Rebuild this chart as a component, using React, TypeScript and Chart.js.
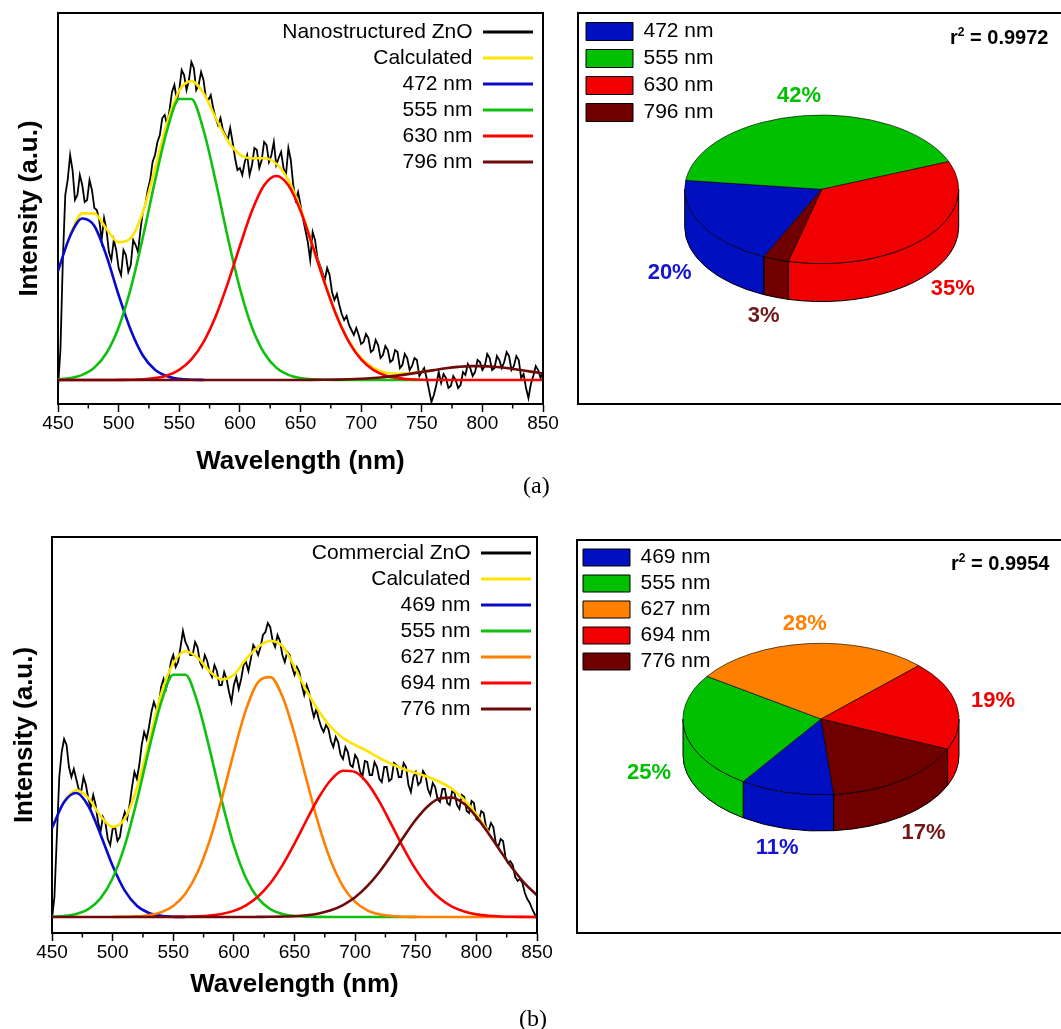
import React, { useEffect, useRef } from 'react';
import { Chart, registerables } from 'chart.js';

Chart.register(...registerables);

const SANS = "'Liberation Sans', Arial, Helvetica, sans-serif";
const SERIF = "'Liberation Serif', 'Times New Roman', serif";
Chart.defaults.font.family = SANS;

// ---------- data ----------
const dataWavelengths = [
  450, 452, 454, 456, 458, 460, 462, 464, 466, 468,
  470, 472, 474, 476, 478, 480, 482, 484, 486, 488,
  490, 492, 494, 496, 498, 500, 502, 504, 506, 508,
  510, 512, 514, 516, 518, 520, 522, 524, 526, 528,
  530, 532, 534, 536, 538, 540, 542, 544, 546, 548,
  550, 552, 554, 556, 558, 560, 562, 564, 566, 568,
  570, 572, 574, 576, 578, 580, 582, 584, 586, 588,
  590, 592, 594, 596, 598, 600, 602, 604, 606, 608,
  610, 612, 614, 616, 618, 620, 622, 624, 626, 628,
  630, 632, 634, 636, 638, 640, 642, 644, 646, 648,
  650, 652, 654, 656, 658, 660, 662, 664, 666, 668,
  670, 672, 674, 676, 678, 680, 682, 684, 686, 688,
  690, 692, 694, 696, 698, 700, 702, 704, 706, 708,
  710, 712, 714, 716, 718, 720, 722, 724, 726, 728,
  730, 732, 734, 736, 738, 740, 742, 744, 746, 748,
  750, 752, 754, 756, 758, 760, 762, 764, 766, 768,
  770, 772, 774, 776, 778, 780, 782, 784, 786, 788,
  790, 792, 794, 796, 798, 800, 802, 804, 806, 808,
  810, 812, 814, 816, 818, 820, 822, 824, 826, 828,
  830, 832, 834, 836, 838, 840, 842, 844, 846, 848,
  850,
];

const fitWavelengths = [
  450, 460, 470, 480, 490, 500, 510, 520, 530, 540,
  550, 560, 570, 580, 590, 600, 610, 620, 630, 640,
  650, 660, 670, 680, 690, 700, 710, 720, 730, 740,
  750, 760, 770, 780, 790, 800, 810, 820, 830, 840,
  850,
];

// (a) Nanostructured ZnO
const nanoIntensity = [
  -8, 30, 120, 185, 200, 225, 210, 180, 185, 205,
  195, 178, 180, 200, 190, 172, 170, 160, 140, 162,
  150, 128, 120, 140, 130, 112, 105, 130, 125, 108,
  115, 140, 135, 128, 150, 168, 175, 190, 200, 218,
  225, 238, 245, 262, 265, 255, 270, 288, 295, 280,
  290, 310, 305, 290, 300, 318, 312, 290, 295, 308,
  300, 282, 280, 285, 272, 262, 255, 262, 250, 245,
  240, 252, 238, 222, 210, 212, 205, 218, 225, 205,
  215, 232, 230, 212, 220, 238, 235, 218, 225, 238,
  215, 222, 228, 212, 205, 232, 220, 195, 180, 188,
  175, 162, 150, 138, 120, 148, 140, 122, 115, 108,
  100, 112, 105, 88, 80, 86, 75, 66, 60, 64,
  55, 50, 45, 52, 45, 36, 38, 46, 42, 28,
  30, 40, 35, 22, 25, 34, 30, 18, 20, 30,
  28, 12, 15, 26, 22, 10, 14, 22, 20, 4,
  8, 12, 2, -10, -22, -15, -5, 8, -3, 6,
  2, -8, -6, 4, 0, -8, -5, 8, 5, 16,
  12, 4, 8, 20, 18, 10, 14, 26, 22, 10,
  12, 24, 20, 12, 18, 28, 24, 10, 14, 24,
  20, 2, 6, -8, -18, -4, 4, 14, 10, 2,
  8,
];
const nanoCalculated = [
  null, 145.9, 166.6, 166.4, 151, 137.6, 141.8, 167.9, 211.2, 257.3,
  289.3, 298.9, 286.9, 262.4, 239.3, 225.5, 221.7, 221.7, 216.4, 199.8,
  171.2, 134.6, 97, 63.8, 38.6, 21.8, 12.2, 7.6, 6.3, 6.8,
  8.2, 9.9, null, null, null, null, null, null, null, null,
  null,
];
const nano472 = [
  109, 144, 161.5, 154, 124, 85, 50, 24.5, 10.3, 3.7,
  1.1, 0.3, 0.1, null, null, null, null, null, null, null,
  null, null, null, null, null, null, null, null, null, null,
  null, null, null, null, null, null, null, null, null, null,
  null,
];
const nano555 = [
  0.6, 1.9, 5.1, 12.4, 27, 52.5, 91.6, 142.7, 199, 250,
  281, 281, 250, 199, 142.7, 91.6, 52.5, 27, 12.4, 5.1,
  1.9, 0.6, 0.2, 0, 0, 0, 0, 0, 0, 0,
  0, null, null, null, null, null, null, null, null, null,
  null,
];
const nano630 = [
  0, 0, 0, 0, 0, 0.1, 0.2, 0.7, 1.9, 4.6,
  10.2, 20.6, 37.9, 63.4, 96.6, 133.9, 169.2, 194.7, 204, 194.7,
  169.2, 133.9, 96.6, 63.4, 37.9, 20.6, 10.2, 4.6, 1.9, 0.7,
  0.2, 0, 0, 0, 0, 0, 0, 0, 0, 0,
  0,
];
const nano796 = [
  0, 0, 0, 0, 0, 0, 0, 0, 0, 0,
  0, 0, 0, 0, 0, 0, 0, 0, 0, 0,
  0.05, 0.1, 0.2, 0.4, 0.7, 1.2, 2.0, 3.0, 4.4, 6.1,
  8.0, 9.9, 11.7, 13.1, 13.9, 13.9, 13.3, 12.0, 10.3, 8.4,
  6.5,
];

// (b) Commercial ZnO
const commIntensity = [
  -2, 20, 80, 140, 165, 178, 172, 150, 140, 148,
  138, 128, 125, 140, 132, 118, 110, 122, 112, 95,
  85, 100, 95, 78, 72, 88, 90, 76, 80, 96,
  105, 98, 112, 130, 145, 138, 152, 172, 185, 178,
  190, 205, 215, 208, 212, 230, 238, 228, 238, 255,
  262, 250, 255, 270, 286, 275, 270, 262, 262, 275,
  270, 255, 250, 262, 256, 245, 240, 252, 246, 232,
  232, 245, 238, 225, 215, 232, 240, 228, 238, 252,
  255, 246, 258, 272, 268, 262, 270, 282, 285, 294,
  290, 276, 270, 282, 276, 262, 255, 265, 262, 250,
  242, 250, 245, 232, 222, 232, 225, 210, 200, 208,
  198, 190, 185, 192, 188, 176, 170, 180, 175, 162,
  158, 170, 165, 152, 150, 162, 158, 146, 140, 156,
  155, 142, 142, 155, 150, 138, 135, 150, 150, 136,
  138, 154, 152, 140, 140, 154, 150, 132, 125, 140,
  145, 132, 135, 146, 142, 128, 122, 134, 130, 118,
  115, 128, 128, 114, 112, 126, 124, 112, 108, 122,
  120, 106, 104, 116, 114, 98, 96, 106, 104, 90,
  86, 94, 90, 74, 70, 78, 76, 60, 54, 56,
  52, 40, 36, 38, 34, 24, 18, 14, 8, 3,
  -2,
];
const commCalculated = [
  null, 116, 127, 118.9, 101.2, 90.1, 98.2, 129, 175.1, 223.1,
  253.7, 265.8, 259.5, 245.7, 237.6, 242.3, 257.8, 270, 276, 271,
  250, 226, 206, 190, 179, 172, 166, 159, 153, 148,
  144, 140, 135, 128, 117, 102.8, 84.8, null, null, null,
  null,
];
const comm469 = [
  89, 115, 124, 111, 82.6, 51.2, 26.4, 11.3, 4.0, 1.2,
  0.3, 0.1, null, null, null, null, null, null, null, null,
  null, null, null, null, null, null, null, null, null, null,
  null, null, null, null, null, null, null, null, null, null,
  null,
];
const comm555 = [
  0.3, 1.0, 3.0, 7.9, 18.6, 38.7, 71.3, 116.4, 167.9, 214.4,
  242.3, 242.3, 214.4, 167.9, 116.4, 71.3, 38.7, 18.6, 7.9, 3.0,
  1.0, 0.3, 0.1, 0, 0, 0, 0, 0, 0, 0,
  0, null, null, null, null, null, null, null, null, null,
  null,
];
const comm627 = [
  null, null, null, null, null, 0.05, 0.2, 0.6, 1.8, 4.7,
  11, 23.3, 44.5, 76.4, 118.2, 164.9, 207.4, 234.9, 239.9, 220.7,
  183, 136.8, 92.1, 55.9, 30.6, 15.1, 6.7, 2.7, 1.0, 0.3,
  0.1, 0, 0, 0, 0, 0, 0, 0, 0, 0,
  0,
];
const comm694 = [
  null, null, null, null, null, null, null, null, null, null,
  0.1, 0.2, 0.6, 1.4, 3.0, 6.1, 11.7, 20.5, 33.7, 51.6,
  73.3, 97, 119.5, 137, 146.2, 145.1, 134.1, 115.3, 92.3, 68.7,
  47.6, 30.7, 18.4, 10.3, 5.4, 2.6, 1.2, 0.5, 0.2, 0.1,
  0,
];
const comm776 = [
  0, 0, 0, 0, 0, 0, 0, 0, 0, 0,
  0, 0, 0, 0, 0, 0, 0, 0.1, 0.2, 0.4,
  0.8, 1.8, 3.6, 6.7, 11.9, 19.7, 30.8, 45, 61.9, 80,
  97.2, 110.8, 118.7, 119.4, 112.9, 100.2, 83.6, 65.5, 48.2, 33.4,
  21.7,
];

// pies
const pieALabels = ['472 nm', '555 nm', '630 nm', '796 nm'];
const pieAValues = [20, 42, 35, 3];
const pieBLabels = ['469 nm', '555 nm', '627 nm', '694 nm', '776 nm'];
const pieBValues = [11, 25, 28, 19, 17];

// ---------- colours ----------
const C_BLACK = '#000000';
const C_YELLOW = '#FFE400';
const C_BLUE = '#0A0ACC';
const C_GREEN = '#10C010';
const C_RED = '#FF0000';
const C_BROWN = '#6E0A0A';
const C_ORANGE = '#FF7F00';

const P_BLUE = '#0010C0';
const P_GREEN = '#00C000';
const P_RED = '#F00000';
const P_BROWN = '#700000';
const P_ORANGE = '#FF8000';

// ---------- line panel ----------
function LinePanel(props: any) {
  const ref = useRef<HTMLCanvasElement>(null);
  useEffect(() => {
    const p = props;
    const datasets = p.series.map((s: any) => ({
      label: s.label,
      data: s.x.map((xv: number, i: number) => ({ x: xv, y: s.y[i] })),
      borderColor: s.color,
      backgroundColor: s.color,
      borderWidth: s.width,
      pointRadius: 0,
      tension: s.smooth ? 0.4 : 0,
      cubicInterpolationMode: s.smooth ? 'monotone' : 'default',
      spanGaps: false,
      order: s.order,
      fill: false,
    }));
    const legendPlace = {
      id: 'legendPlace',
      afterLayout(chart: any) {
        const L = chart.legend;
        if (!L) return;
        const w = L.width;
        const h = L.height;
        L.left = p.legendRight - w;
        L.right = p.legendRight;
        L.top = p.legendTop;
        L.bottom = p.legendTop + h;
      },
    };
    const frame = {
      id: 'frame',
      afterDraw(chart: any) {
        const { ctx, chartArea: a, scales } = chart;
        const xs = scales.x;
        ctx.save();
        ctx.strokeStyle = '#000';
        ctx.lineWidth = 2;
        ctx.beginPath();
        ctx.moveTo(a.left, a.top);
        ctx.lineTo(a.right, a.top);
        ctx.lineTo(a.right, a.bottom);
        ctx.stroke();
        ctx.lineWidth = 1.5;
        const t = xs.ticks;
        for (let i = 0; i < t.length - 1; i++) {
          const px = xs.getPixelForValue((t[i].value + t[i + 1].value) / 2);
          ctx.beginPath();
          ctx.moveTo(px, a.bottom);
          ctx.lineTo(px, a.bottom + 4.5);
          ctx.stroke();
        }
        ctx.restore();
      },
    };
    const defaultGen = (Chart as any).defaults.plugins.legend.labels.generateLabels;
    const chart = new Chart(ref.current as HTMLCanvasElement, {
      type: 'line',
      data: { datasets },
      options: {
        animation: false,
        responsive: false,
        events: [],
        layout: { padding: p.padding },
        scales: {
          x: {
            type: 'linear',
            min: 450,
            max: 850,
            ticks: {
              stepSize: 50,
              color: '#000',
              padding: 0,
              maxRotation: 0,
              autoSkip: false,
              font: { family: SANS, size: 19 },
            },
            grid: {
              drawOnChartArea: false,
              drawTicks: true,
              tickLength: 8,
              tickColor: '#000',
              tickWidth: 1.5,
            },
            border: { display: true, color: '#000', width: 2 },
            title: {
              display: true,
              text: 'Wavelength (nm)',
              color: '#000',
              font: { family: SANS, size: 26, weight: 'bold' },
              padding: { top: p.xTitlePadTop, bottom: 4 },
            },
          },
          y: {
            min: p.yMin,
            max: p.yMax,
            ticks: { display: false },
            grid: { display: false, drawTicks: false },
            border: { display: true, color: '#000', width: 2 },
            title: {
              display: true,
              text: 'Intensity (a.u.)',
              color: '#000',
              font: { family: SANS, size: 26, weight: 'bold' },
              padding: { top: 2, bottom: p.yTitlePadBottom },
            },
          },
        },
        plugins: {
          tooltip: { enabled: false },
          legend: {
            display: true,
            position: 'chartArea',
            align: 'start',
            rtl: true,
            labels: {
              color: '#000',
              boxWidth: 50,
              boxHeight: 3,
              padding: 5,
              font: { family: SANS, size: 21 },
              sort: (a: any, b: any) => a.datasetIndex - b.datasetIndex,
              generateLabels: (c: any) =>
                defaultGen(c).map((l: any) => ({ ...l, fillStyle: l.strokeStyle, lineWidth: 0 })),
            },
          },
        },
      } as any,
      plugins: [legendPlace, frame],
    });
    return () => chart.destroy();
  }, []);
  return (
    <canvas
      ref={ref}
      width={props.width}
      height={props.height}
      style={{ position: 'absolute', left: props.left, top: props.top, width: props.width, height: props.height }}
    />
  );
}

// ---------- pie panel ----------
function PiePanel(props: any) {
  const ref = useRef<HTMLCanvasElement>(null);
  useEffect(() => {
    const p = props;
    const pie3d = {
      id: 'pie3d',
      beforeDatasetsDraw(chart: any) {
        const meta = chart.getDatasetMeta(0);
        const arcs = meta.data;
        if (!arcs.length) return;
        const ctx = chart.ctx;
        const { cx, cy, rx, ry, depth } = p.geom;
        const colors = chart.data.datasets[0].backgroundColor;
        const TAU = Math.PI * 2;
        ctx.save();
        ctx.lineWidth = 1;
        ctx.strokeStyle = '#000';
        ctx.lineJoin = 'round';
        arcs.forEach((arc: any, i: number) => {
          let s = arc.startAngle;
          let e = arc.endAngle;
          const k = Math.floor(s / TAU);
          s -= k * TAU;
          e -= k * TAU;
          for (let base = 0; base <= 2 * TAU; base += TAU) {
            const a = Math.max(s, base);
            const b = Math.min(e, base + Math.PI);
            if (b > a) {
              ctx.beginPath();
              ctx.ellipse(cx, cy, rx, ry, 0, a, b, false);
              ctx.lineTo(cx + rx * Math.cos(b), cy + depth + ry * Math.sin(b));
              ctx.ellipse(cx, cy + depth, rx, ry, 0, b, a, true);
              ctx.closePath();
              ctx.fillStyle = colors[i];
              ctx.fill();
              ctx.stroke();
            }
          }
        });
        ctx.restore();
        const a0 = arcs[0];
        const R = a0.outerRadius;
        ctx.save();
        ctx.translate(cx, cy);
        ctx.scale(rx / R, ry / R);
        ctx.translate(-a0.x, -a0.y);
      },
      afterDatasetsDraw(chart: any) {
        const ctx = chart.ctx;
        ctx.restore();
        const meta = chart.getDatasetMeta(0);
        const arcs = meta.data;
        const { cx, cy, rx, ry, depth } = p.geom;
        const values = chart.data.datasets[0].data;
        ctx.save();
        ctx.font = `bold 22px ${SANS}`;
        ctx.textAlign = 'center';
        ctx.textBaseline = 'middle';
        arcs.forEach((arc: any, i: number) => {
          const mid = (arc.startAngle + arc.endAngle) / 2;
          const c = Math.cos(mid);
          const s = Math.sin(mid);
          const x = cx + (rx + 37) * c;
          const y = cy + (ry + 20) * s + (s > 0.05 ? depth : 0);
          ctx.fillStyle = p.labelColors[i];
          ctx.fillText(`${values[i]}%`, x, y);
        });
        ctx.restore();
      },
    };
    const chart = new Chart(ref.current as HTMLCanvasElement, {
      type: 'pie',
      data: {
        labels: p.labels,
        datasets: [
          {
            data: p.values,
            backgroundColor: p.colors,
            borderColor: '#000',
            borderWidth: 1,
            clip: false,
          },
        ],
      },
      options: {
        animation: false,
        responsive: false,
        events: [],
        rotation: p.rotation,
        layout: { padding: p.padding },
        plugins: {
          tooltip: { enabled: false },
          legend: {
            position: 'left',
            align: 'start',
            labels: {
              boxWidth: 47,
              boxHeight: p.boxHeight,
              padding: p.legendPad,
              color: '#000',
              font: { family: SANS, size: 21 },
            },
          },
        },
      } as any,
      plugins: [pie3d],
    });
    return () => chart.destroy();
  }, []);
  return (
    <canvas
      ref={ref}
      width={props.width}
      height={props.height}
      style={{ position: 'absolute', left: props.left, top: props.top, width: props.width, height: props.height }}
    />
  );
}

function Frame(props: any) {
  return (
    <div
      style={{
        position: 'absolute',
        left: props.left,
        top: props.top,
        width: 520,
        height: props.height,
        boxSizing: 'border-box',
        borderLeft: '2px solid #000',
        borderTop: '2px solid #000',
        borderBottom: '2px solid #000',
      }}
    />
  );
}

function RSquared(props: any) {
  return (
    <div
      style={{
        position: 'absolute',
        left: props.left,
        top: props.top,
        font: `bold 20px ${SANS}`,
        lineHeight: '20px',
        whiteSpace: 'nowrap',
        color: '#000',
      }}
    >
      r<span style={{ position: 'relative', top: -8, fontSize: 12 }}>2</span> = {props.value}
    </div>
  );
}

function PanelLabel(props: any) {
  return (
    <div
      style={{
        position: 'absolute',
        left: props.left,
        top: props.top,
        font: `24px ${SERIF}`,
        lineHeight: '24px',
        color: '#000',
      }}
    >
      {props.text}
    </div>
  );
}

export default function App() {
  const seriesA = [
    { label: 'Nanostructured ZnO', x: dataWavelengths, y: nanoIntensity, color: C_BLACK, width: 1.8, order: 7, smooth: false },
    { label: 'Calculated', x: fitWavelengths, y: nanoCalculated, color: C_YELLOW, width: 2.6, order: 6, smooth: true },
    { label: '472 nm', x: fitWavelengths, y: nano472, color: C_BLUE, width: 2.6, order: 5, smooth: true },
    { label: '555 nm', x: fitWavelengths, y: nano555, color: C_GREEN, width: 2.6, order: 4, smooth: true },
    { label: '630 nm', x: fitWavelengths, y: nano630, color: C_RED, width: 2.6, order: 3, smooth: true },
    { label: '796 nm', x: fitWavelengths, y: nano796, color: C_BROWN, width: 2.6, order: 1, smooth: true },
  ];
  const seriesB = [
    { label: 'Commercial ZnO', x: dataWavelengths, y: commIntensity, color: C_BLACK, width: 1.8, order: 7, smooth: false },
    { label: 'Calculated', x: fitWavelengths, y: commCalculated, color: C_YELLOW, width: 2.6, order: 6, smooth: true },
    { label: '469 nm', x: fitWavelengths, y: comm469, color: C_BLUE, width: 2.6, order: 5, smooth: true },
    { label: '555 nm', x: fitWavelengths, y: comm555, color: C_GREEN, width: 2.6, order: 4, smooth: true },
    { label: '627 nm', x: fitWavelengths, y: comm627, color: C_ORANGE, width: 2.6, order: 3, smooth: true },
    { label: '694 nm', x: fitWavelengths, y: comm694, color: C_RED, width: 2.6, order: 2, smooth: true },
    { label: '776 nm', x: fitWavelengths, y: comm776, color: C_BROWN, width: 2.6, order: 1, smooth: true },
  ];
  return (
    <div
      style={{
        position: 'absolute',
        left: 0,
        top: 0,
        width: 1061,
        height: 1029,
        background: '#fff',
        overflow: 'hidden',
      }}
    >
      <LinePanel
        left={0}
        top={0}
        width={570}
        height={500}
        padding={{ left: 12.4, right: 27, top: 13, bottom: 18.7 }}
        yMin={-24}
        yMax={367}
        xTitlePadTop={11.3}
        yTitlePadBottom={12.4}
        legendRight={538}
        legendTop={16.5}
        series={seriesA}
      />
      <LinePanel
        left={0}
        top={520}
        width={570}
        height={509}
        padding={{ left: 7.4, right: 33, top: 17, bottom: 24.4 }}
        yMin={-16}
        yMax={380}
        xTitlePadTop={5.6}
        yTitlePadBottom={11.4}
        legendRight={536}
        legendTop={17.5}
        series={seriesB}
      />
      <Frame left={577} top={12} height={393} />
      <Frame left={576} top={539} height={395} />
      <PiePanel
        left={579}
        top={14}
        width={482}
        height={388}
        labels={pieALabels}
        values={pieAValues}
        colors={[P_BLUE, P_GREEN, P_RED, P_BROWN]}
        labelColors={['#1414D0', '#00C000', '#F00000', '#701818']}
        rotation={204.9}
        padding={{ left: 1, top: 1 }}
        boxHeight={18}
        legendPad={6}
        geom={{ cx: 242.7, cy: 175.3, rx: 137, ry: 74.3, depth: 38 }}
      />
      <PiePanel
        left={578}
        top={541}
        width={483}
        height={390}
        labels={pieBLabels}
        values={pieBValues}
        colors={[P_BLUE, P_GREEN, P_ORANGE, P_RED, P_BROWN]}
        labelColors={['#1414D0', '#00C000', '#FF8000', '#F00000', '#701818']}
        rotation={174.7}
        padding={{ left: 0, top: 1 }}
        boxHeight={17}
        legendPad={5}
        geom={{ cx: 243, cy: 178, rx: 138, ry: 75.7, depth: 36.3 }}
      />
      <RSquared left={950} top={27} value="0.9972" />
      <RSquared left={951} top={553} value="0.9954" />
      <PanelLabel left={523} top={473} text="(a)" />
      <PanelLabel left={519} top={1006} text="(b)" />
    </div>
  );
}
